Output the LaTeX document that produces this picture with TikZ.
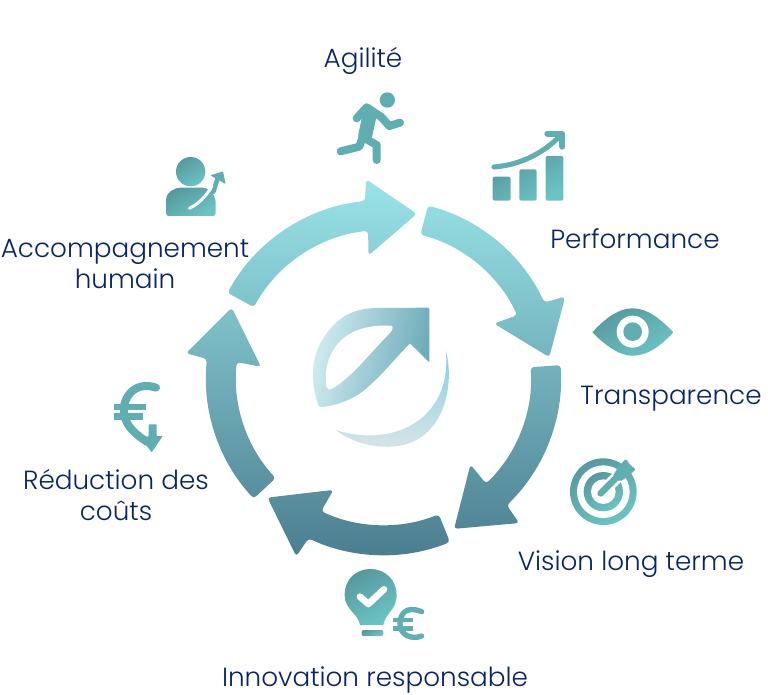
\documentclass[tikz,border=0pt]{standalone}
\usepackage{fontspec}
\setmainfont{Poppins}[UprightFont=* Light]
\usepackage{tikz}
\usetikzlibrary{positioning}
\definecolor{navy}{HTML}{0B2366}
\definecolor{iconA}{HTML}{57999F}
\definecolor{iconB}{HTML}{6CC3C3}
\definecolor{iconC}{HTML}{60AEB2}
\definecolor{ringtop}{HTML}{9AE4E8}
\definecolor{ringbot}{HTML}{4B7D8F}
\definecolor{logoA}{HTML}{D3EDF1}
\definecolor{logoM}{HTML}{8FC8D4}
\definecolor{logoB}{HTML}{6AA9B8}
\definecolor{logoC}{HTML}{86D0DF}
\definecolor{logoN}{HTML}{A9DDE8}
\definecolor{logoD}{HTML}{D9E4E9}
\tikzset{
	lbl/.style={text=navy, font=\fontsize{19.7}{23.2}\selectfont, align=center, inner sep=0pt},
	iconfill/.style={left color=iconA, right color=iconB, shading angle=30},
	iconline/.style={draw=iconC, line cap=round, line join=round},
	gap/.style={draw=white, line cap=round, line join=round},
	ringarrow/.style={top color=ringtop, bottom color=ringbot, rounded corners=2.5pt}
}
% one ring arrow: tail angle, head base angle, tip angle
\newcommand{\ringpiece}[3]{
	(#1:177.5) arc[start angle=#1, end angle=#2, radius=177.5]
	-- (#2-1:199) -- (#3:167) -- (#2+1:123) -- (#2:147.5)
	arc[start angle=#2, end angle=#1, radius=147.5] -- cycle
}
\begin{document}
\begin{tikzpicture}[x=.75pt, y=-.75pt]
	\useasboundingbox (0,0) rectangle (768,695);

	% ring
	\shade[ringarrow, shift={(383.5,377.5)}, yscale=-1]
		\ringpiece{151.5}{96}{78.5}
		\ringpiece{75.5}{25}{7}
		\ringpiece{4}{-46}{-65}
		\ringpiece{-68}{-115}{-134}
		\ringpiece{-137}{-186}{-204.7};

	% logo in the middle
	\begin{scope}[shift={(170,160)}, x=.25pt, y=-.25pt]
		\shade[rounded corners=.8pt, left color=logoA, middle color=logoM, right color=logoB, shading angle=78]
			(447,742) .. controls (420,660) and (420,590) .. (470,520)
			.. controls (510,465) and (560,445) .. (620,444)
			-- (778,443) -- (778,607) -- (720,550)
			.. controls (680,590) and (640,640) .. (600,675)
			.. controls (560,715) and (500,738) .. (447,742) -- cycle;
		\fill[white, rounded corners=1.5pt] (470,686)
			.. controls (460,620) and (480,490) .. (668,497)
			-- (668,510) .. controls (610,570) and (560,630) .. (520,662)
			.. controls (500,680) and (480,690) .. (470,686) -- cycle;
		\shade[top color=logoC, middle color=logoN, bottom color=logoD]
			(827,572) .. controls (855,660) and (830,870) .. (640,860)
			.. controls (580,858) and (530,835) .. (497,810)
			.. controls (590,840) and (690,830) .. (760,770)
			.. controls (820,715) and (835,640) .. (827,572) -- cycle;
	\end{scope}

	% runner
	\begin{scope}[shift={(320,80)}, x=.25pt, y=-.25pt]
		\fill[iconC] (202,60) circle (23);
		\draw[iconline, line width=6pt] (110,115) -- (140,82) -- (185,112) -- (208,138) -- (240,128);
		\draw[iconline, line width=10.5pt] (150,100) -- (136,165);
		\draw[iconline, line width=6pt] (135,175) -- (170,195) -- (170,240);
		\draw[iconline, line width=6pt] (128,170) -- (118,200) -- (62,214);

		% chart
		\shade[iconfill, rounded corners=1.5pt]
			(518,290) rectangle (572,362)
			(598,268) rectangle (650,362)
			(677,228) rectangle (730,362);
		\draw[iconline, line width=3.8pt] (522,261) .. controls (600,255) and (670,220) .. (722,166);
		\draw[iconline, line width=4.5pt] (682,161) -- (727,161) -- (727,200);
	\end{scope}

	% eye and target
	\begin{scope}[shift={(560,300)}, x=.25pt, y=-.25pt]
		\shade[iconfill, rounded corners=.5pt]
			(97,97) .. controls (140,50) and (180,25) .. (218,25)
			.. controls (260,25) and (300,55) .. (340,97)
			.. controls (300,140) and (260,167) .. (218,167)
			.. controls (180,167) and (140,140) .. (97,97) -- cycle;
		\fill[white] (218,95) circle (48);
		\fill[iconC] (218,95) circle (28);

		\shade[iconfill] (130,575) circle (100);
		\fill[white] (130,575) circle (79);
		\shade[iconfill] (130,575) circle (59);
		\fill[white] (130,575) circle (37);
		\draw[gap, line width=9pt] (125,577) -- (215,490);
		\draw[iconline, line width=5pt] (122,580) -- (180,522);
		\fill[iconC, rounded corners=1.5pt] (158,530) -- (172,505) -- (197,476) -- (212,497) -- (228,508) -- (200,532) -- (180,545) -- cycle;
	\end{scope}

	% person and euro
	\begin{scope}[shift={(100,150)}, x=.25pt, y=-.25pt]
		\shade[iconfill] (272,65) circle (44);
		\shade[iconfill, rounded corners=2pt]
			(198,198) -- (198,160) .. controls (198,125) and (225,113) .. (250,113)
			-- (300,113) .. controls (330,113) and (347,140) .. (347,165)
			-- (347,198) -- cycle;
		\draw[iconline, line width=3.5pt] (340,125) -- (353,85);
		\fill[iconC, rounded corners=.5pt] (331,76) -- (369,64) -- (377,102) -- cycle;
		\draw[gap, line width=2.2pt] (268,175) .. controls (295,162) and (318,140) .. (336,108);

		\draw[iconline, line width=6pt] (168,713) .. controls (100,690) and (65,750) .. (72,790)
			.. controls (77,830) and (110,855) .. (140,875);
		\draw[iconline, line width=4.8pt, line cap=butt] (42,771) -- (137,771) (42,800) -- (130,800);
		\fill[iconC, rounded corners=.5pt] (146,823) -- (170,823) -- (170,858) -- (188,858) -- (155,907) -- (125,868) -- (146,858) -- cycle;
	\end{scope}

	% bulb
	\begin{scope}[shift={(330,560)}, x=.25pt, y=-.25pt]
		\shade[iconfill]
			(90,195) .. controls (85,160) and (44,150) .. (44,105)
			.. controls (44,55) and (80,27) .. (122,27)
			.. controls (165,27) and (200,60) .. (200,105)
			.. controls (200,150) and (165,160) .. (160,195) -- cycle;
		\shade[iconfill, rounded corners=1.5pt] (95,210) rectangle (160,228);
		\draw[gap, line width=5pt] (90,110) -- (115,132) -- (162,88);
		\draw[iconline, line width=4pt] (275,155) .. controls (225,135) and (210,165) .. (210,192)
			.. controls (210,225) and (245,240) .. (275,228);
		\draw[iconline, line width=3.4pt, line cap=butt] (188,180) -- (248,180) (188,205) -- (248,205);
	\end{scope}

	% labels
	\node[lbl] (agilite) at (363,61) {Agilité};
	\node[lbl] (perf) at (635,239) {Performance};
	\node[lbl] (transp) at (671,399) {Transparence};
	\node[lbl] (vision) at (631,564) {Vision long terme};
	\node[lbl] (innov) at (375,680) {Innovation responsable};
	\node[lbl] (couts) at (116,495) {Réduction des\\coûts};
	\node[lbl] (accomp) at (125,264) {Accompagnement\\humain};
\end{tikzpicture}
\end{document}
